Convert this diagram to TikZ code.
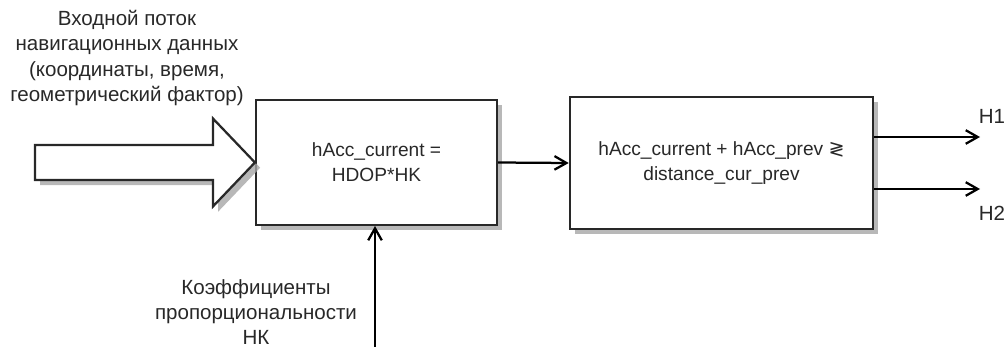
\documentclass[tikz,border=0pt]{standalone}
\usepackage{fontspec}
\setmainfont{Liberation Sans}
\newfontfamily\symfont{DejaVu Sans}
\usetikzlibrary{arrows.meta,positioning,calc,shadows}
\definecolor{inkgray}{RGB}{40,40,40}
\tikzset{
  block/.style={rectangle, draw=inkgray, fill=white, line width=1.6pt, align=center,
    font=\fontsize{13.6pt}{18pt}\selectfont, text=inkgray,
    drop shadow={shadow xshift=1.3mm, shadow yshift=-1.3mm, fill=black!35, opacity=0.8}},
  label/.style={align=center, font=\fontsize{14.6pt}{18pt}\selectfont, text=inkgray},
  arrow/.style={-{Straight Barb[length=3mm,width=3.4mm,line width=1.6pt]}, line width=1.6pt, black},
  bigarrow/.style={draw=inkgray, fill=white, line width=1.6pt, line join=miter,
    drop shadow={shadow xshift=1.3mm, shadow yshift=-1.3mm, fill=black!35, opacity=0.8}}
}
\begin{document}
\begin{tikzpicture}[x=0.025cm,y=-0.025cm]
  \useasboundingbox (0,0) rectangle (1007,347);
  % blocks
  \node[block, minimum width=6.02cm, minimum height=3.12cm] (calc) at (376.5,162.5) {hAcc\_current =\\HDOP*HK};
  \node[block, minimum width=7.58cm, minimum height=3.3cm] (cmp) at (721.5,163) {hAcc\_current + hAcc\_prev {\symfont ≷}\\distance\_cur\_prev};
  % input stream
  \node[label] (inlbl) at (127,58) {Входной поток\\навигационных данных\\(координаты, время,\\геометрический фактор)};
  \coordinate (tip) at (calc.west);
  \path[bigarrow] ($(tip)+(-220,-17.5)$) -- ($(tip)+(-42,-17.5)$) -- ($(tip)+(-42,-44)$) -- (tip)
    -- ($(tip)+(-42,44)$) -- ($(tip)+(-42,17.5)$) -- ($(tip)+(-220,17.5)$) -- cycle;
  % coefficients
  \coordinate (kin) at (375,350);
  \node[label] (klbl) at (256,312) {Коэффициенты\\пропорциональности\\НК};
  \draw[arrow] (kin) -- (kin |- calc.south);
  \draw[arrow] (calc.east) -- (cmp.west);
  % outputs
  \coordinate (h1) at (980,137);
  \coordinate (h2) at (980,189);
  \draw[arrow] (cmp.east |- h1) -- (h1);
  \draw[arrow] (cmp.east |- h2) -- (h2);
  \node[label] (h1lbl) at (992,116) {Н1};
  \node[label] (h2lbl) at (992,213) {Н2};
\end{tikzpicture}
\end{document}
